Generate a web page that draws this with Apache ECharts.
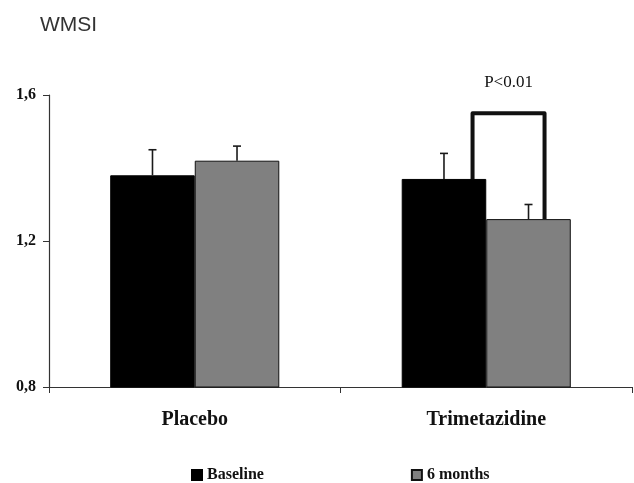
<!DOCTYPE html>
<html>
<head>
<meta charset="utf-8">
<script src="https://cdn.jsdelivr.net/npm/echarts@6/dist/echarts.min.js"></script>
<style>
  html, body { margin: 0; padding: 0; background: #fff; }
  #chart { width: 634px; height: 483px; }
</style>
</head>
<body>
<div id="chart"></div>
<script>
// values
const categories = ['Placebo', 'Trimetazidine']
const seriesNames = ['Baseline', '6 months']
const baseline = [1.38, 1.37]
const sixMonths = [1.42, 1.26]
const baselineErr = [0.07, 0.07]
const sixMonthsErr = [0.04, 0.04]
const yTicks = [0.8, 1.2, 1.6]
const bracketTop = 1.55
const bracketLabel = 'P<0.01'

const serif = '"Liberation Serif", "Times New Roman", serif'
const BAR_W = 0.29 // share of a category band per bar

function errorData(vals, errs) {
  return vals.map((v, i) => [i, v, v + errs[i]])
}

// one-sided error bar with a small cap, side = -1 left bar, +1 right bar
function errorBar(side) {
  return function (params, api) {
    const band = api.size([1, 0])[0]
    const base = api.coord([api.value(0), api.value(1)])
    const top = api.coord([api.value(0), api.value(2)])
    const x = base[0] + side * band * BAR_W / 2
    const style = { stroke: '#1a1a1a', lineWidth: 1.6 }
    return {
      type: 'group',
      children: [
        { type: 'line', shape: { x1: x, y1: base[1], x2: x, y2: top[1] }, style },
        { type: 'line', shape: { x1: x - 4, y1: top[1], x2: x + 4, y2: top[1] }, style }
      ]
    }
  }
}

function bracket(params, api) {
  const band = api.size([1, 0])[0]
  const cx = api.coord([api.value(0), api.value(1)])[0]
  const yTop = api.coord([api.value(0), api.value(1)])[1]
  const yL = api.coord([api.value(0), api.value(2)])[1]
  const yR = api.coord([api.value(0), api.value(3)])[1]
  const xL = cx - band * 0.047
  const xR = cx + band * 0.2
  return {
    type: 'group',
    children: [
      {
        type: 'polyline',
        shape: { points: [[xL, yL], [xL, yTop], [xR, yTop], [xR, yR]] },
        style: { stroke: '#111', lineWidth: 4, fill: null, lineJoin: 'round' }
      },
      {
        type: 'text',
        style: {
          text: bracketLabel, x: (xL + xR) / 2, y: yTop - 31,
          align: 'center', verticalAlign: 'middle',
          font: '17px ' + serif, fill: '#111'
        }
      }
    ]
  }
}

const chart = echarts.init(document.getElementById('chart'))

chart.setOption({
  animation: false,
  backgroundColor: '#fff',
  title: {
    text: 'WMSI',
    left: 35,
    top: 10,
    textStyle: { fontFamily: '"Liberation Sans", Arial, sans-serif', fontSize: 21, fontWeight: 'normal', color: '#333' }
  },
  legend: {
    data: seriesNames,
    left: 186,
    top: 462,
    icon: 'rect',
    itemWidth: 10,
    itemHeight: 10,
    itemGap: 147,
    itemTextGap: 2,
    textStyle: { fontFamily: serif, fontSize: 16, fontWeight: 'bold', color: '#111' }
  },
  grid: { left: 49, right: 2, top: 95, bottom: 96 },
  xAxis: {
    type: 'category',
    data: categories,
    axisLine: { lineStyle: { color: '#333', width: 1.2 } },
    axisTick: { show: true, length: 6, lineStyle: { color: '#333' } },
    axisLabel: { margin: 23, fontFamily: serif, fontSize: 20, fontWeight: 'bold', color: '#111' }
  },
  yAxis: {
    type: 'value',
    min: yTicks[0],
    max: yTicks[yTicks.length - 1],
    interval: yTicks[1] - yTicks[0],
    axisLine: { show: true, lineStyle: { color: '#333', width: 1.2 } },
    axisTick: { show: true, length: 6, lineStyle: { color: '#333' } },
    splitLine: { show: false },
    axisLabel: {
      margin: 13,
      fontFamily: serif, fontSize: 16, fontWeight: 'bold', color: '#111',
      formatter: v => v.toFixed(1).replace('.', ',')
    }
  },
  series: [
    {
      name: seriesNames[0],
      type: 'bar',
      data: baseline,
      barWidth: (BAR_W * 100) + '%',
      barGap: '0%',
      itemStyle: { color: '#000', borderColor: '#000', borderWidth: 1 }
    },
    {
      name: seriesNames[1],
      type: 'bar',
      data: sixMonths,
      barWidth: (BAR_W * 100) + '%',
      barGap: '0%',
      itemStyle: { color: '#808080', borderColor: '#111', borderWidth: 1 }
    },
    {
      type: 'custom',
      z: 5,
      silent: true,
      renderItem: errorBar(-1),
      data: errorData(baseline, baselineErr)
    },
    {
      type: 'custom',
      z: 5,
      silent: true,
      renderItem: errorBar(1),
      data: errorData(sixMonths, sixMonthsErr)
    },
    {
      type: 'custom',
      z: 6,
      silent: true,
      renderItem: bracket,
      data: [[1, bracketTop, baseline[1], sixMonths[1]]]
    }
  ]
})
</script>
</body>
</html>
